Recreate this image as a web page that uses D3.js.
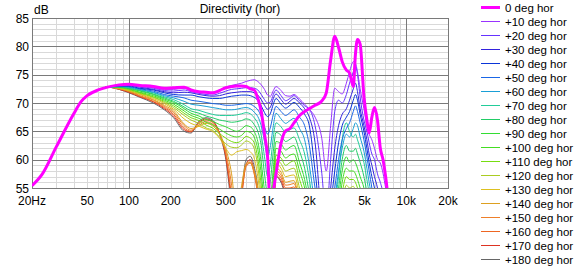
<!DOCTYPE html>
<html><head><meta charset="utf-8">
<script src="https://cdn.jsdelivr.net/npm/d3@7"></script>
<style>
body{margin:0;background:#fff;}
svg{display:block;font-family:Arial,"Liberation Sans",sans-serif;}
</style>
</head><body>
<svg id="c" width="578" height="266"></svg>
<script>
// Frequencies (Hz)
const freqs = [20,23.5,30,40,45,50,60,70,
  85,100,120,150,180,210,250,280,320,360,400,450,500,550,600,650,700,750,800,850,900,950,1000,
  1050,1100,1150,1250,1350,1450,1550,1700,1850,2000,
  2200,2450,2650,2850,3050,3250,3450,3700,3900,4150,4300,4450,4650,4950,5200,5400,5650,5900,6200,6500,6800,7100,7500,8000,9000,20000];

// Shared low-frequency part (20–70 Hz), identical for all angles
const lowEnd = [55.4,57.3,62.3,68.1,70.2,71.3,72.3,72.8];

// Per-angle values from 85 Hz up (dB)
const deg0 = [73.2,73.3,73.1,72.9,72.6,72.7,72.8,72.3,72.0,71.9,71.8,72.2,72.7,72.9,73.0,73.0,72.9,72.5,72.3,70.8,68.5,64.5,60.5,
  51,54.5,57.5,62.9,65.1,65.5,66.5,67.8,68.5,69.0,
  69.6,70.3,71.8,77.6,81.8,79.8,77.3,75.8,75.3,72.9,78.6,81.2,80.4,71.2,67.0,64.7,67.5,69.2,67.0,62.0,60.0,57.0,52.0,47,45,45];
const deg10 = [73.2,73.2,73.0,72.7,72.4,72.4,72.6,72.2,71.9,71.8,71.8,72.3,72.8,73.1,73.3,73.5,73.8,74.0,74.1,73.8,73.2,72.4,71.4,
  71.2,72.2,72.9,72.2,71.3,71.2,71.5,70.7,69.8,68.9,
  67.5,64.0,58.0,66.0,72.6,72.0,71.6,73.5,75.5,77.3,77.0,75.5,72.5,69.0,66.0,64.5,63.5,62.0,60.0,59.4,57.6,55.0,52.0,48,45,45];
const deg20 = [73.1,73.1,72.9,72.6,72.2,72.1,72.3,72.0,71.7,71.5,71.4,71.7,72.1,72.4,72.5,72.6,72.7,72.7,72.6,72.3,71.5,70.6,70.0,
  70.2,71.5,72.3,71.3,70.4,70.8,71.3,70.4,69.5,68.9,
  66.0,58.0,50,60.0,68.5,70.5,70.0,71.5,73.5,75.5,76.5,75.0,71.0,67.0,65.0,63.0,61.0,60.0,57.5,56.0,54.0,50,47,45,45,45];
const deg30 = [73.1,73.1,72.8,72.4,72.0,71.8,71.9,71.8,71.5,71.3,71.2,71.3,71.6,71.8,71.9,72.0,72.0,72.0,71.8,71.4,70.6,69.6,68.9,
  69.3,70.8,71.6,70.6,69.8,70.3,70.8,70.0,69.0,67.5,
  63.0,50,47,55,62,66,68,69,70.5,72.5,73.5,72,69,66,63.5,61,59,57,55,52,48,46,45,45,45,45];
const deg40 = [73.0,73.0,72.6,72.3,71.8,71.5,71.4,71.4,71.1,70.9,70.8,70.8,71.0,71.2,71.3,71.4,71.4,71.3,71.0,70.5,69.5,68.3,67.6,
  68.2,69.8,70.8,69.8,69.1,69.6,70.1,69.2,68.0,66.0,
  58,48,46,52,58,63,66,67.5,68.5,70.5,71.5,70.5,68,65,62,59.5,57,55,52,48,46,45,45,45,45,45];
const deg50 = [73.0,72.9,72.5,72.1,71.5,71.2,70.9,70.5,70.3,70.1,69.9,69.8,69.6,69.6,69.7,69.8,69.9,69.8,69.4,68.8,67.6,65.8,64.5,
  65.8,68.0,69.4,68.5,67.8,68.3,68.8,67.5,66.0,62.5,
  55,49,47,50,55,60,63.5,65.5,66.5,68.5,69.5,68.5,66.5,63.5,60.5,58,55,52,48,46,45,45,45,45,45,45];
const deg60 = [72.9,72.8,72.4,71.9,71.3,70.9,70.3,69.8,69.6,69.4,69.2,69.0,68.8,68.8,68.9,69.1,69.2,69.0,68.4,67.6,66.0,63.2,60.5,
  62.5,66.0,68.2,67.2,66.4,66.9,67.3,65.5,63.5,59.0,
  52,47,46,48,53,58,62,64.5,64,65.5,66.5,66,64,61.5,58.5,56,53,49,46,45,45,45,45,45,45,45];
const deg70 = [72.9,72.7,72.3,71.8,71.1,70.6,69.7,69.0,68.7,68.3,68.0,67.8,67.8,67.8,67.9,68.1,68.3,68.1,67.4,66.4,64.3,60.5,57.0,
  59.5,64.0,66.5,65.8,64.8,65.3,65.6,63.5,61.0,56.5,
  50,46,45,47,52,57,63.5,66.5,65,64,64.5,63.5,62,59.5,56.5,54,50,47,45,45,45,45,45,45,45,45];
const deg80 = [72.8,72.6,72.2,71.6,70.9,70.3,69.3,68.6,68.2,67.7,67.4,67.0,66.8,66.6,66.7,66.9,67.2,67.0,66.2,65.0,62.5,57.5,54.0,
  56.5,61.5,64.8,64.3,63.2,63.6,64.0,61.5,58.5,54.0,
  48,45,45,46,50,55,60,62.5,61.5,61.5,62,61,59.5,57,54,50,47,45,45,45,45,45,45,45,45,45];
const deg90 = [72.8,72.6,72.1,71.5,70.7,70.1,69.0,68.2,67.7,67.1,66.8,66.2,65.8,65.3,65.0,65.4,66.0,65.8,65.0,63.2,59.5,54.5,51.0,
  53.0,58.5,63.2,62.8,61.7,62.2,62.5,59.5,56.5,52.0,
  47,45,45,45,48,53,58,60.5,59.5,60,59.5,58.5,57,55,52,48,46,45,45,45,45,45,45,45,45,45];
const deg100 = [72.8,72.5,71.9,71.3,70.5,69.8,68.6,67.8,67.3,66.6,66.2,65.4,64.7,64.2,64.0,64.3,65.0,64.8,64.0,61.8,57.5,52.0,48.0,
  51.0,56.5,62.0,61.5,60.3,60.8,61.0,58.0,55.0,50.0,
  46,45,45,45,46,51,56,58.5,58,58,57.5,56.5,55,53,49,46,45,45,45,45,45,45,45,45,45,45];
const deg110 = [72.7,72.4,71.8,71.1,70.3,69.5,68.2,67.4,66.9,66.1,65.6,64.6,63.8,63.2,63.0,63.4,64.1,63.8,63.0,60.2,55.5,50.0,47.0,
  50.0,55.0,60.8,60.3,59.0,59.5,59.8,56.5,53.5,49.0,
  46,45,45,45,45,49,54,57,56.5,56.5,56,55,53,50,47,45,45,45,45,45,45,45,45,45,45,45];
const deg120 = [72.7,72.3,71.7,71.0,70.1,69.2,67.8,67.0,66.4,65.6,65.2,64.0,62.8,62.2,62.1,62.6,63.3,63.0,62.0,58.8,53.5,48.0,46.0,
  48.0,53.5,60.0,59.3,58.0,58.3,58.5,55.0,52.0,48.0,
  45,45,45,45,45,47,52,55.5,55,55.3,54.5,53,50,47,45,45,45,45,45,45,45,45,45,45,45,45];
const deg130 = [72.6,72.2,71.6,70.8,69.9,68.9,67.2,66.4,65.9,65.4,65.0,63.8,62.0,60.8,61.4,61.6,61.8,61.4,60.3,57.0,52.0,47.0,46.0,
  47.0,52.5,59.3,58.5,57.0,57.2,57.3,53.8,50.0,46.0,
  45,45,45,45,45,45,46,50,49,49,48,47,45,45,45,45,45,45,45,45,45,45,45,45,45,45];
const deg140 = [72.6,72.1,71.5,70.6,69.6,68.6,66.3,65.5,65.9,66.4,66.0,64.5,61.9,57.5,50.0,55.5,59.3,59.6,58.0,55.0,49.0,46.0,46.0,
  47,52,58.5,57.8,56.0,56.2,56.3,52.5,49,46,
  45,45,45,45,45,45,45,45,45,45,45,45,45,45,45,45,45,45,45,45,45,45,45,45,45,45];
const deg150 = [72.5,72.1,71.3,70.5,69.4,68.3,66.0,65.2,66.1,66.7,66.3,64.6,61.3,55.5,47.0,54.5,59.0,59.5,57.7,54.0,48.0,46.0,46.0,
  46,51.5,58.0,57.3,55.5,55.6,55.8,52.0,48,46,
  45,45,45,45,45,45,45,45,45,45,45,45,45,45,45,45,45,45,45,45,45,45,45,45,45,45];
const deg160 = [72.5,72.0,71.2,70.3,69.2,68.0,65.6,65.0,66.4,67.0,66.6,64.7,60.8,53.5,45.0,53.5,58.8,59.4,57.5,53.5,47.0,45.0,45.0,
  46,51,57.6,56.8,55.0,55.0,55.2,51.5,47,45,
  45,45,45,45,45,45,45,45,45,45,45,45,45,45,45,45,45,45,45,45,45,45,45,45,45,45];
const deg170 = [72.4,71.9,71.1,70.2,69.0,67.7,65.3,64.9,66.6,67.2,66.8,64.7,60.4,52.5,44.0,53.5,59.2,60.0,58.0,54.0,47.0,45.0,45.0,
  45,50.5,57.2,56.3,54.5,54.6,54.8,51,47,45,
  45,45,45,45,45,45,45,45,45,45,45,45,45,45,45,45,45,45,45,45,45,45,45,45,45,45];
const deg180 = [72.4,71.8,71.0,70.0,68.8,67.4,65.0,64.7,66.8,67.4,67.0,64.5,60.0,51.5,44.0,54.0,60.0,60.6,58.8,55.0,47.0,45.0,45.0,
  45,50,57.0,56.0,54.0,54.2,54.4,50.5,46,45,
  45,45,45,45,45,45,45,45,45,45,45,45,45,45,45,45,45,45,45,45,45,45,45,45,45,45];

const seriesNames = ["0 deg hor","+10 deg hor","+20 deg hor","+30 deg hor","+40 deg hor","+50 deg hor","+60 deg hor",
  "+70 deg hor","+80 deg hor","+90 deg hor","+100 deg hor","+110 deg hor","+120 deg hor","+130 deg hor",
  "+140 deg hor","+150 deg hor","+160 deg hor","+170 deg hor","+180 deg hor"];
const seriesValues = [deg0,deg10,deg20,deg30,deg40,deg50,deg60,deg70,deg80,deg90,deg100,deg110,deg120,deg130,deg140,deg150,deg160,deg170,deg180];
const seriesColors = ["#ff00ff","#9933ff","#6633ff","#3322dd","#0a35d8","#1a66e6","#1a9fd6","#22cc99","#22cc66","#33dd33",
  "#44dd22","#77dd11","#aacc22","#ddc020","#dda020","#ee7f2a","#ee6622","#dd3322","#666666"];

const yTicks = [55,60,65,70,75,80,85];
const xTickValues = [20,50,100,200,500,1000,2000,5000,10000,20000];
const xTickLabels = ["20Hz","50","100","200","500","1k","2k","5k","10k","20k"];
const xMinor = [30,40,60,70,80,90,300,400,600,700,800,900,3000,4000,6000,7000,8000,9000,200,2000,50,500,5000];
const xMajor = [20,100,1000,10000,20000];

const svg = d3.select("#c");
const X0 = 32, X1 = 448, Y0 = 18, Y1 = 188;
const x = d3.scaleLog().domain([20,20000]).range([X0,X1]);
const y = d3.scaleLinear().domain([55,85]).range([Y1,Y0]);
const px = v => Math.round(v) + 0.5;

const grid = svg.append("g");
// minor horizontal (every dB)
d3.range(55,86).filter(v => v % 5 !== 0).forEach(v => {
  grid.append("line").attr("x1",X0).attr("x2",X1).attr("y1",px(y(v))).attr("y2",px(y(v)))
    .attr("stroke","#d9d9d9").attr("stroke-width",1);
});
// minor vertical
xMinor.forEach(f => {
  grid.append("line").attr("x1",px(x(f))).attr("x2",px(x(f))).attr("y1",Y0).attr("y2",Y1)
    .attr("stroke","#d9d9d9").attr("stroke-width",1);
});
// major horizontal
yTicks.forEach(v => {
  grid.append("line").attr("x1",X0).attr("x2",X1+1).attr("y1",px(y(v))).attr("y2",px(y(v)))
    .attr("stroke","#7a7a7a").attr("stroke-width",1);
});
// major vertical
xMajor.forEach(f => {
  grid.append("line").attr("x1",px(x(f))).attr("x2",px(x(f))).attr("y1",Y0).attr("y2",Y1+1)
    .attr("stroke","#7a7a7a").attr("stroke-width",1);
});

// axis labels
svg.append("g").selectAll("text").data(yTicks).join("text")
  .attr("x",29).attr("y",d => y(d)+4.5).attr("text-anchor","end")
  .attr("font-size",12).attr("fill","#000").text(d => d);
svg.append("g").selectAll("text").data(xTickValues).join("text")
  .attr("x",d => x(d)).attr("y",205).attr("text-anchor","middle")
  .attr("font-size",12).attr("fill","#000").text((d,i) => xTickLabels[i]);
svg.append("text").attr("x",34).attr("y",14).attr("font-size",12).attr("fill","#000").text("dB");
svg.append("text").attr("x",240).attr("y",13).attr("text-anchor","middle").attr("font-size",12).attr("fill","#000").text("Directivity (hor)");

// clip
svg.append("clipPath").attr("id","plotclip").append("rect")
  .attr("x",X0).attr("y",Y0-2).attr("width",X1-X0).attr("height",Y1-Y0+2);

const line = d3.line().x(d => x(d[0])).y(d => y(d[1])).curve(d3.curveMonotoneX);
const plot = svg.append("g").attr("clip-path","url(#plotclip)");
for (let i = seriesValues.length - 1; i >= 0; i--) {
  const vals = lowEnd.concat(seriesValues[i]);
  const pts = freqs.map((f,j) => [f, vals[j]]);
  plot.append("path").attr("d", line(pts)).attr("fill","none")
    .attr("stroke", seriesColors[i]).attr("stroke-width", i === 0 ? 3 : 1)
    .attr("stroke-linejoin","round");
}

// legend
const lg = svg.append("g");
seriesNames.forEach((n,i) => {
  const yy = 7 + 14*i;
  lg.append("line").attr("x1",481).attr("x2",500).attr("y1",yy+0.5).attr("y2",yy+0.5)
    .attr("stroke",seriesColors[i]).attr("stroke-width", i === 0 ? 3 : 1);
  lg.append("text").attr("x",505).attr("y",yy+4.5).attr("font-size",11.5).attr("fill","#000").text(n);
});
</script>
</body></html>
